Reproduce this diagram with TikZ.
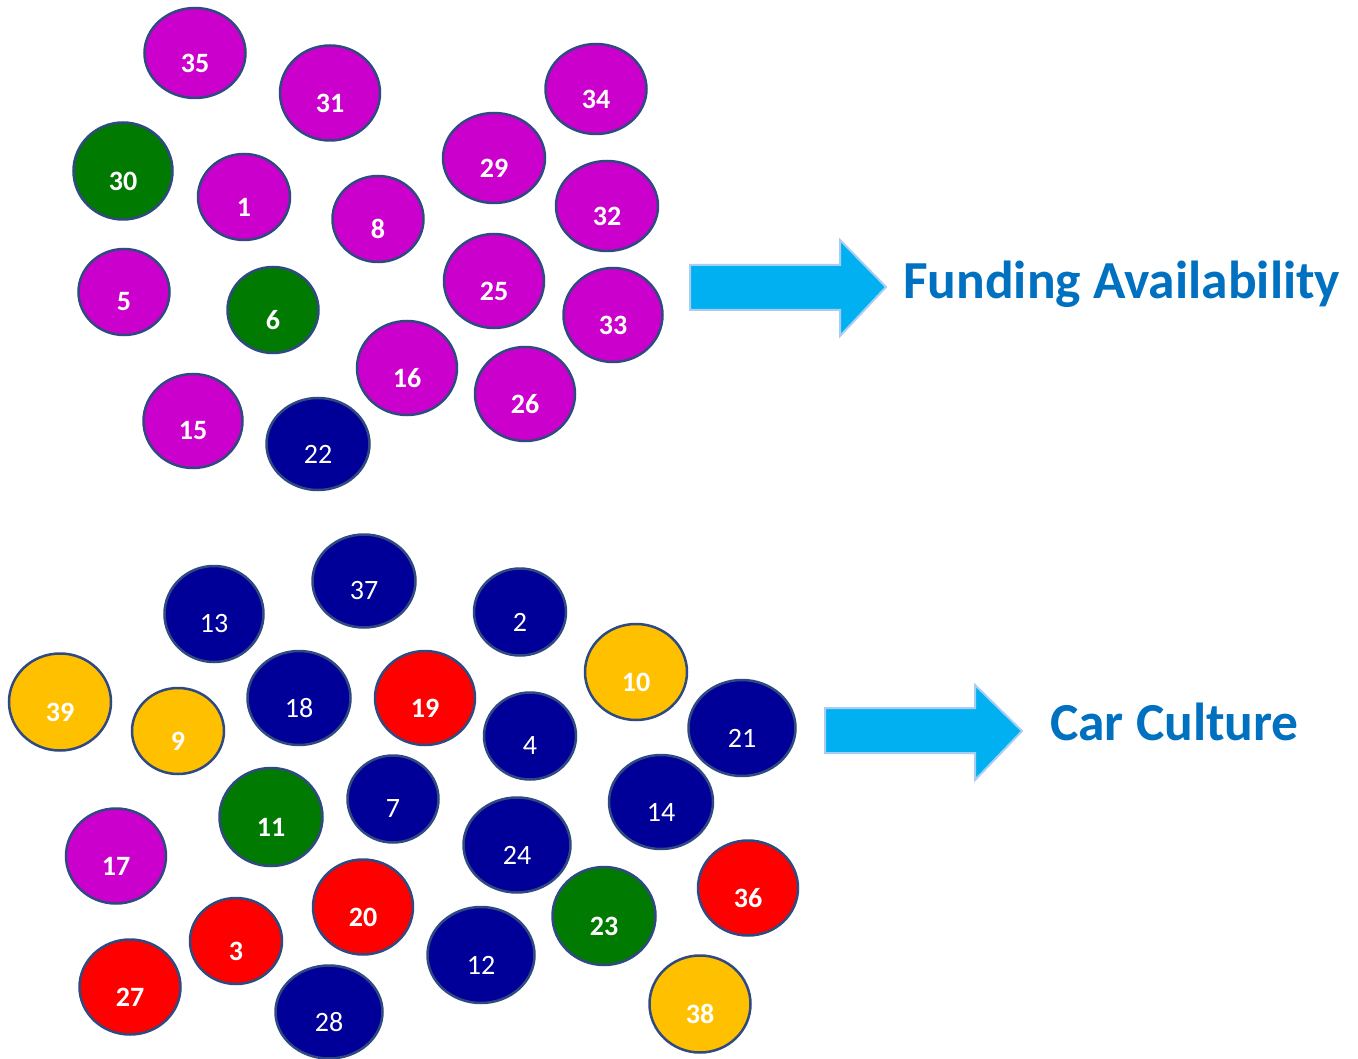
\documentclass[tikz,border=0pt]{standalone}
\usepackage{fontspec}
\setmainfont{Carlito}
\usetikzlibrary{shapes.geometric}
\definecolor{magc}{HTML}{CC00CC}
\definecolor{grnc}{HTML}{007A00}
\definecolor{navc}{HTML}{000099}
\definecolor{redc}{HTML}{FF0000}
\definecolor{yelc}{HTML}{FFC000}
\definecolor{edgec}{HTML}{2F4A80}
\definecolor{arrc}{HTML}{00B0F0}
\definecolor{arredge}{HTML}{A8CDF2}
\definecolor{titlec}{HTML}{0070C0}
\tikzset{
  ball/.style={ellipse,draw=edgec,line width=2.5pt,inner sep=0pt},
  mag/.style={fill=magc}, grn/.style={fill=grnc}, nav/.style={fill=navc},
  red/.style={fill=redc}, yel/.style={fill=yelc},
  numb/.style={text=white,font=\fontsize{28}{28}\selectfont\bfseries,inner sep=0pt},
  numr/.style={text=white,font=\fontsize{28}{28}\selectfont,inner sep=0pt},
  bigarrow/.style={fill=arrc,draw=arredge,line width=2pt,line join=miter},
  title/.style={text=titlec,font=\fontsize{53.5}{53.5}\selectfont\bfseries,inner sep=0pt,anchor=base west}
}
\newcommand\ball[7]{%
  \node[ball,#6,minimum width=#4pt,minimum height=#5pt] (c#1) at (#2,#3) {};
  \node[num#7] (t#1) at (#2,#3+10) {#1};
}
\begin{document}
\begin{tikzpicture}[x=1pt,y=-1pt]
\useasboundingbox (0,0) rectangle (1358,1059);
% top cluster
\ball{35}{195}{53}{101}{90}{mag}{b}
\ball{31}{330}{93}{100}{95}{mag}{b}
\ball{34}{596}{89}{101}{90}{mag}{b}
\ball{30}{123}{171}{99}{97}{grn}{b}
\ball{1}{244}{197}{92}{86}{mag}{b}
\ball{8}{378}{219}{91}{86}{mag}{b}
\ball{29}{494}{158}{102}{90}{mag}{b}
\ball{32}{607}{206}{102}{90}{mag}{b}
\ball{5}{124}{292}{91}{86}{mag}{b}
\ball{6}{273}{310}{91}{86}{grn}{b}
\ball{25}{494}{281}{100}{94}{mag}{b}
\ball{33}{613}{315}{99}{94}{mag}{b}
\ball{16}{407}{368}{100}{94}{mag}{b}
\ball{26}{525}{394}{100}{94}{mag}{b}
\ball{15}{193}{421}{99}{94}{mag}{b}
\ball{22}{318}{444}{103}{92}{nav}{r}
% bottom cluster
\ball{37}{364}{581}{103}{93}{nav}{r}
\ball{13}{214}{614}{99}{96}{nav}{r}
\ball{2}{520}{612}{92}{87}{nav}{r}
\ball{10}{636}{672}{102}{96}{yel}{b}
\ball{39}{60}{702}{102}{97}{yel}{b}
\ball{9}{178}{731}{92}{86}{yel}{b}
\ball{18}{299}{698}{103}{94}{nav}{r}
\ball{19}{425}{698}{100}{94}{red}{b}
\ball{4}{530}{736}{92}{87}{nav}{r}
\ball{21}{742}{728}{107}{96}{nav}{r}
\ball{11}{271}{817}{103}{98}{grn}{b}
\ball{7}{393}{799}{91}{87}{nav}{r}
\ball{14}{661}{802}{104}{94}{nav}{r}
\ball{24}{517}{845}{107}{95}{nav}{r}
\ball{17}{116}{856}{100}{95}{mag}{b}
\ball{36}{748}{888}{100}{95}{red}{b}
\ball{20}{363}{907}{100}{95}{red}{b}
\ball{23}{604}{916}{103}{98}{grn}{b}
\ball{3}{236}{941}{92}{86}{red}{b}
\ball{12}{481}{955}{107}{96}{nav}{r}
\ball{27}{130}{987}{101}{95}{red}{b}
\ball{28}{329}{1012}{107}{93}{nav}{r}
\ball{38}{700}{1004}{101}{97}{yel}{b}
% arrows
\draw[bigarrow] (690,265) -- (840,265) -- (840,240) -- (886,287) -- (840,336) -- (840,310) -- (690,310) -- cycle;
\draw[bigarrow] (825,708) -- (975,708) -- (975,685) -- (1022,731) -- (975,780) -- (975,753) -- (825,753) -- cycle;
\node[title] (fund) at (903,299) {Funding Availability};
\node[title] (car) at (1050,740) {Car Culture};
\end{tikzpicture}
\end{document}
